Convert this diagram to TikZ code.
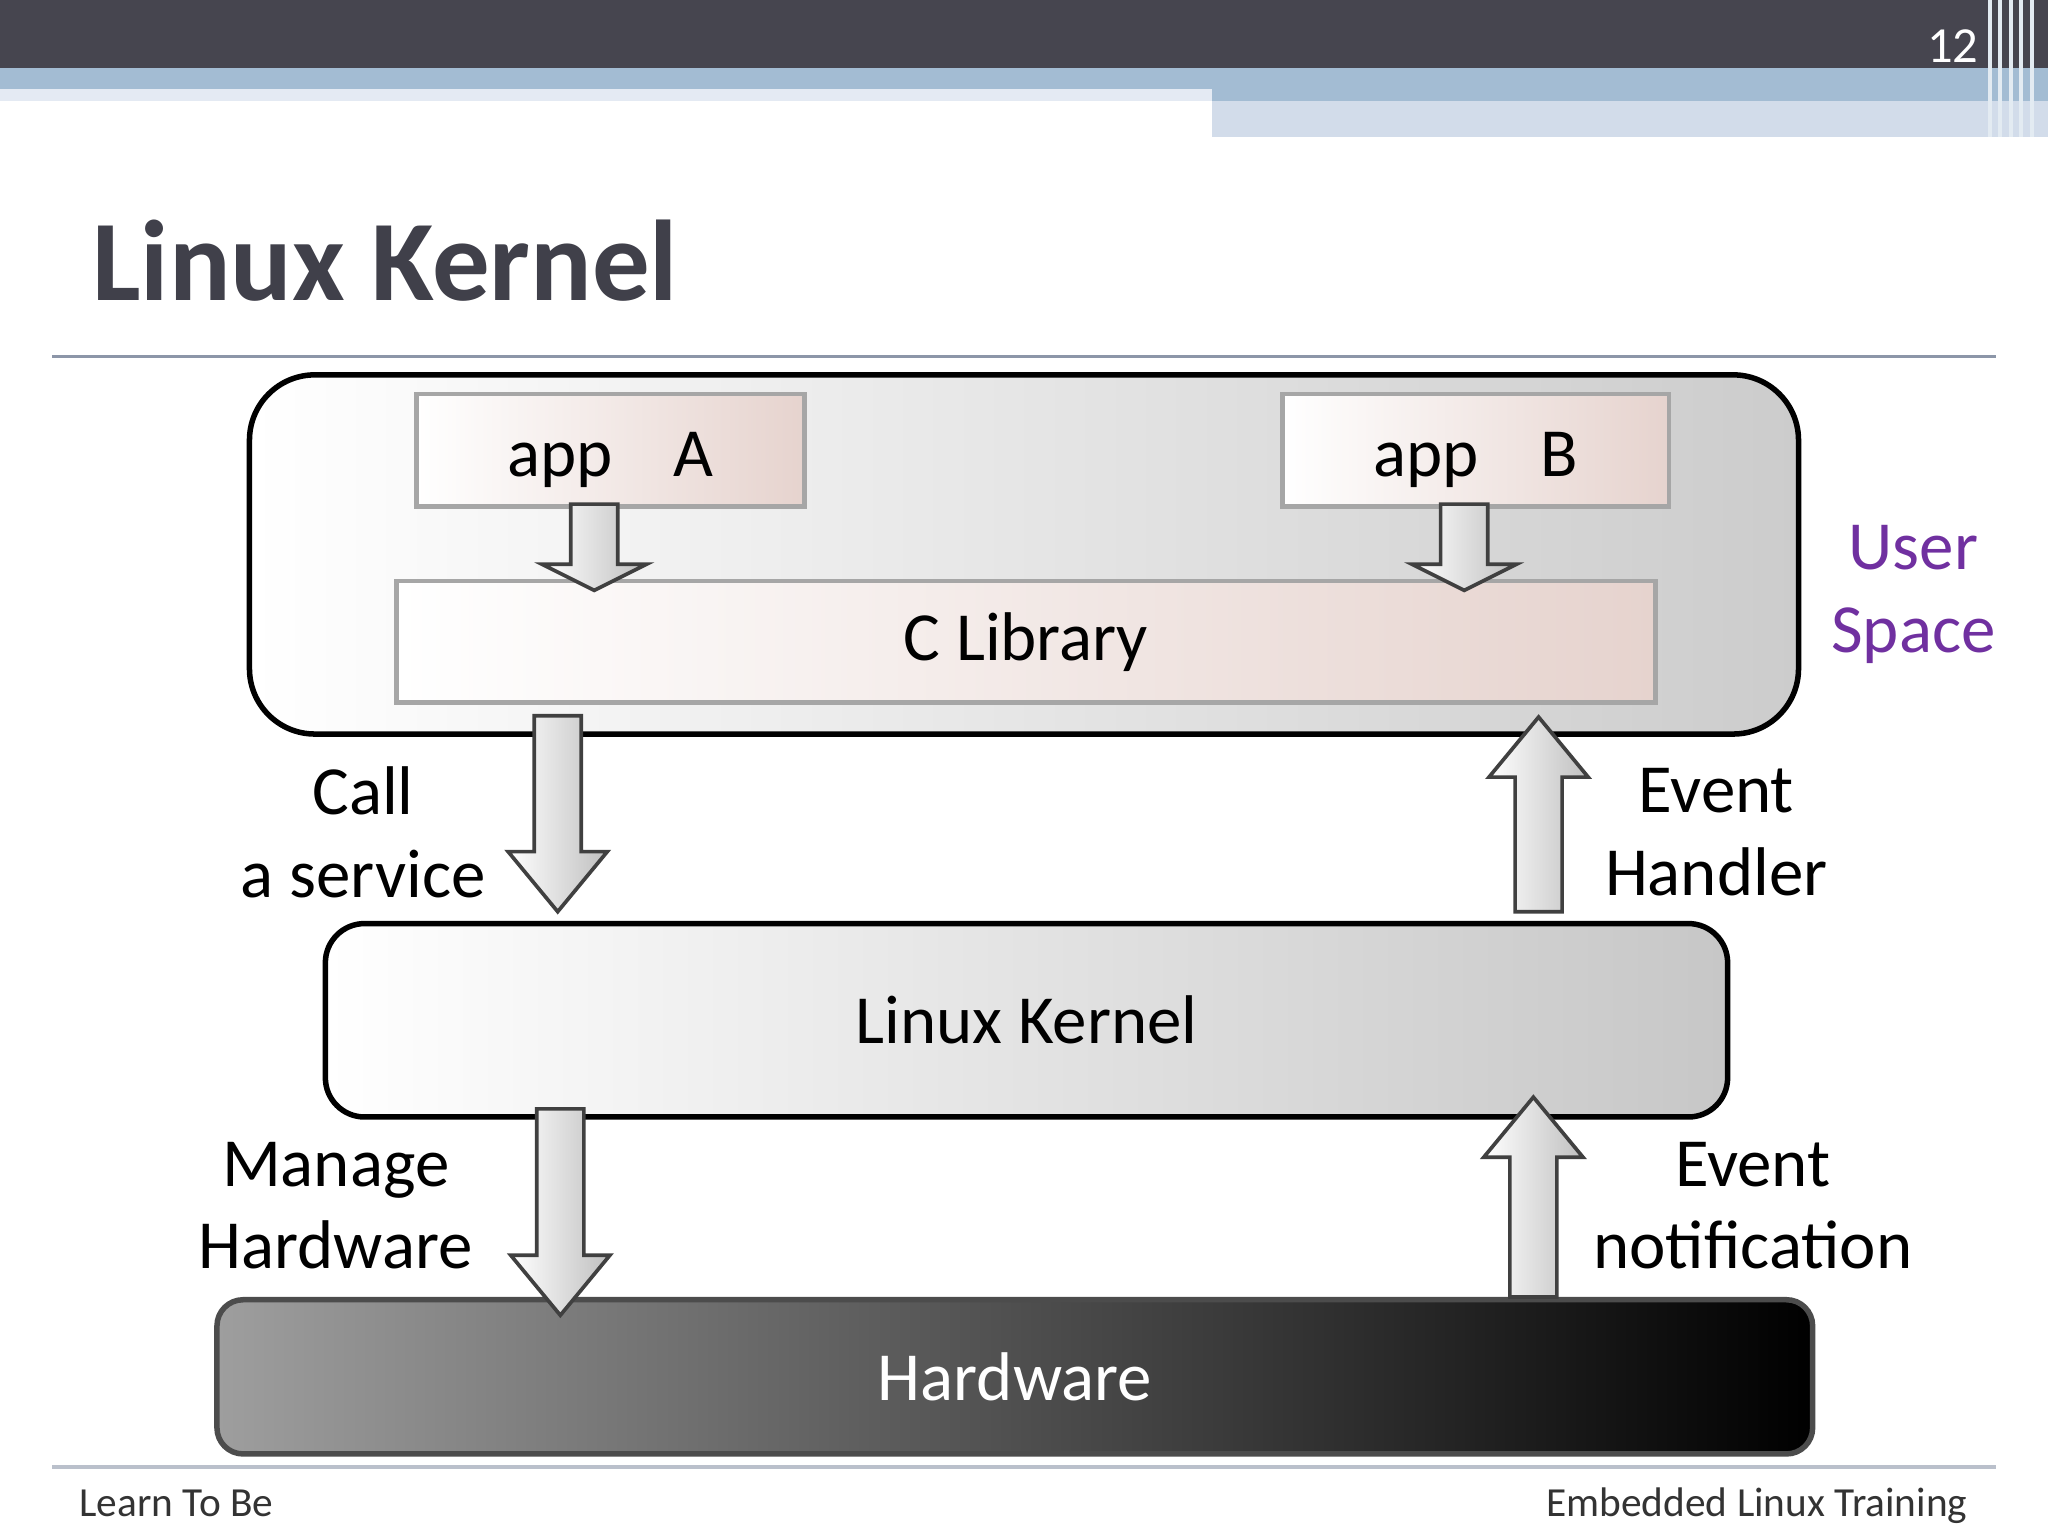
\documentclass[tikz,border=0pt]{standalone}
\usepackage{fontspec}
\setmainfont{Carlito}
\usetikzlibrary{positioning,calc}
\definecolor{bardark}{HTML}{46454F}
\definecolor{barblue}{HTML}{A3BCD3}
\definecolor{barlight}{HTML}{D2DCEA}
\definecolor{titlegray}{HTML}{40404A}
\definecolor{rulegray}{HTML}{8C96A8}
\definecolor{apppink}{HTML}{E6D3CE}
\definecolor{userpurple}{HTML}{7030A0}
\newcommand{\blockarrow}[3]{% x, shaft start y, tip y
  \pgfmathsetmacro{\dir}{(#3>#2)?1:-1}
  \draw[barrow] (#1-18,#2) -- (#1+18,#2) -- (#1+18,#3-\dir*46) -- (#1+38,#3-\dir*46)
    -- (#1,#3) -- (#1-38,#3-\dir*46) -- (#1-18,#3-\dir*46) -- cycle;}
\newcommand{\smallarrow}[3]{%
  \draw[barrow] (#1-18,#2) -- (#1+18,#2) -- (#1+18,#3-20) -- (#1+40,#3-20)
    -- (#1,#3) -- (#1-40,#3-20) -- (#1-18,#3-20) -- cycle;}
\begin{document}
\begin{tikzpicture}[x=0.01cm,y=-0.01cm,
    appbox/.style={draw=gray!70, line width=1pt, left color=white, right color=apppink, inner sep=0pt},
    barrow/.style={draw=black!75, line width=0.8pt, left color=white, right color=black!25},
    lbl/.style={font=\fontsize{15}{18}\selectfont, align=center}]
  \useasboundingbox (0,0) rectangle (1568,1176);
  % header bars
  \fill[barlight] (928,77) rectangle (1568,105);
  \fill[barblue] (0,52) rectangle (1568,77);
  \fill[barlight!60] (0,68) rectangle (928,77);
  \fill[bardark] (0,0) rectangle (1568,52);
  \foreach \x in {1522,1530,1538,1546,1554} \fill[white!70!barblue] (\x,0) rectangle (\x+3,105);
  \node[text=white, font=\fontsize{11}{13}\selectfont] (page) at (1495,35) {12};
  % title
  \node[anchor=base west, text=titlegray, font=\fontsize{25}{30}\selectfont\bfseries, inner sep=0pt] (title) at (70,230) {Linux Kernel};
  \draw[rulegray, line width=0.8pt] (40,273) -- (1528,273);
  \draw[rulegray!60, line width=0.8pt] (40,1123) -- (1528,1123);
  % user space
  \draw[line width=1.2pt, rounded corners=0.5cm, left color=white, right color=black!20] (191,287) rectangle (1377,562);
  \node[appbox, minimum width=2.97cm, minimum height=0.86cm, anchor=north west] (appA) at (317,300) {};
  \node[appbox, minimum width=2.96cm, minimum height=0.86cm, anchor=north west] (appB) at (980,300) {};
  \node[lbl, anchor=base] at ($(appA.center)+(0,20)$) {app\enspace\, A};
  \node[lbl, anchor=base] at ($(appB.center)+(0,20)$) {app\enspace\, B};
  \node[appbox, minimum width=9.63cm, minimum height=0.93cm, anchor=north west, lbl] (clib) at (302,443) {C Library};
  \smallarrow{455}{386}{452}
  \smallarrow{1121}{386}{452}
  \node[lbl, text=userpurple] (user) at (1465,455) {User\\Space};
  % kernel
  \node[draw, line width=1.2pt, rounded corners=0.3cm, left color=white, right color=black!22, minimum width=10.73cm, minimum height=1.48cm, anchor=north west, lbl] (kernel) at (247,705) {Linux Kernel};
  \blockarrow{427}{548}{698}
  \blockarrow{1178}{698}{549}
  \node[lbl] (call) at (278,637) {Call\\a service};
  \node[lbl] (handler) at (1314,637) {Event\\Handler};
  % hardware
  \node[draw=black!70, line width=1.2pt, rounded corners=0.2cm, left color=black!38, right color=black, minimum width=12.21cm, minimum height=1.18cm, anchor=north west, lbl, text=white] (hw) at (164,993) {Hardware};
  \blockarrow{429}{849}{1007}
  \blockarrow{1174}{993}{840}
  \node[lbl] (manage) at (257,923) {Manage\\Hardware};
  \node[lbl] (notif) at (1342,923) {Event\\notification};
  % footer
  \node[anchor=base west, font=\fontsize{9}{11}\selectfont, text=black!80, inner sep=0pt] (left) at (60,1161) {Learn To Be};
  \node[anchor=base east, font=\fontsize{9}{11}\selectfont, text=black!80, inner sep=0pt] (right) at (1507,1161) {Embedded Linux Training};
\end{tikzpicture}
\end{document}
